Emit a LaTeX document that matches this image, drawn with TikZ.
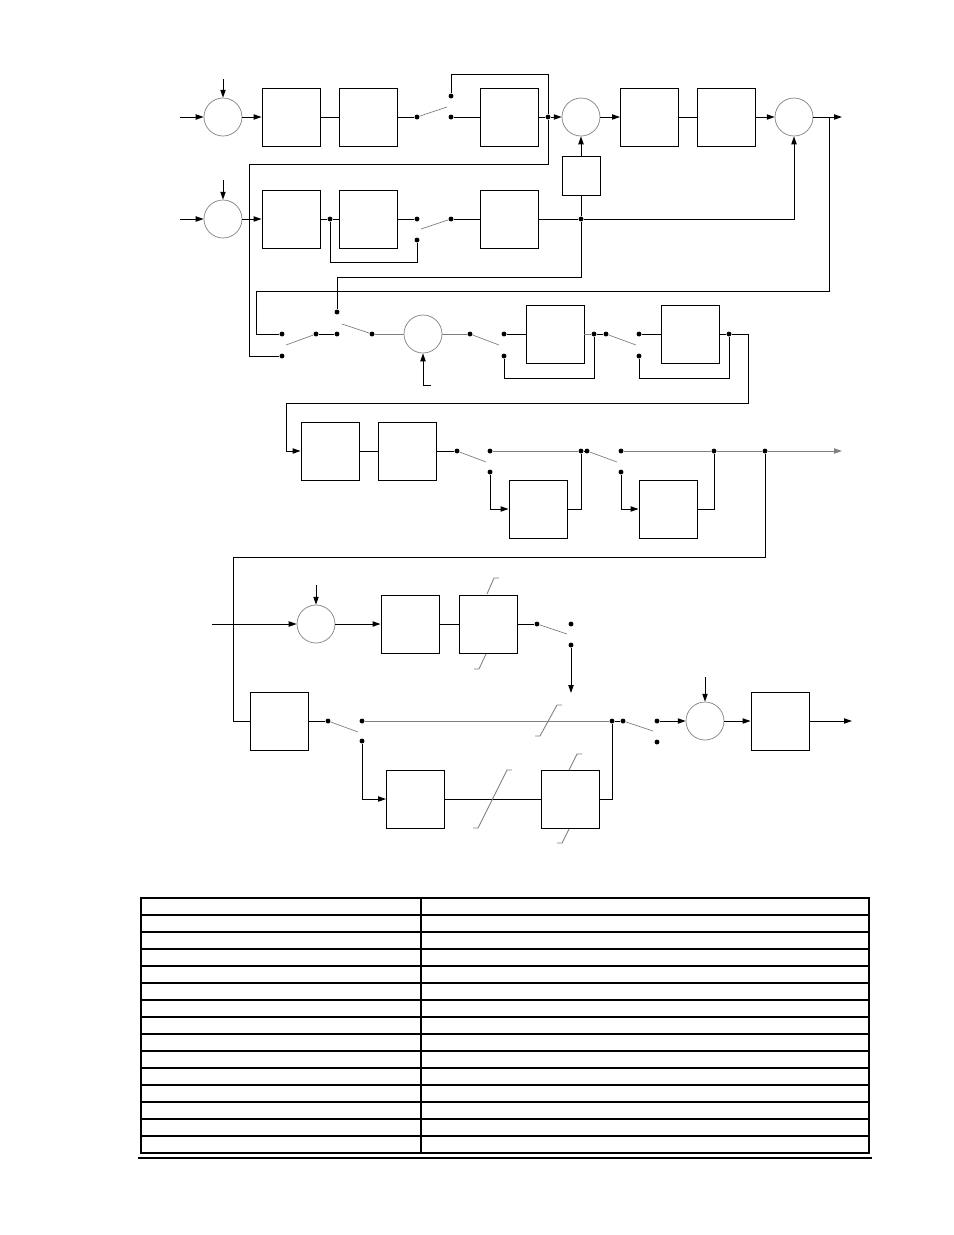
\documentclass[tikz,border=0pt]{standalone}
\usetikzlibrary{arrows.meta}
\begin{document}
\begin{tikzpicture}[x=.02cm,y=-.02cm,line width=.55pt,>={Triangle[length=4.5pt,width=3pt]},
        blk/.style={draw,minimum width=1.16cm,minimum height=1.16cm,inner sep=0},
        sum/.style={draw=gray,line width=.4pt,circle,minimum size=.76cm,inner sep=0},
        dot/.style={circle,fill,inner sep=0,minimum size=2.8pt},
        blade/.style={gray,line width=.4pt},
        gry/.style={gray,line width=.5pt}]
        \useasboundingbox(0,0)rectangle(954,1235);
        \node[sum](s1)at(223,117){};
        \coordinate(i1)at(180,117);
        \coordinate(t1)at(223,79);
        \node[blk](b1)at(291,117){};
        \node[blk](b2)at(368.5,117){};
        \node[dot](p1)at(417,117){};
        \node[dot](c1u)at(451,96){};
        \node[dot](c1d)at(451,117){};
        \node[blk](b3)at(509,117){};
        \node[dot](j1)at(548,117){};
        \node[sum](s2)at(581,117){};
        \node[blk](b4)at(649.5,117){};
        \node[blk](b5)at(726.5,117){};
        \node[sum](s3)at(794,117){};
        \coordinate(j2)at(829,117);
        \coordinate(o1)at(842,117);
        \node[blk,minimum width=.76cm,minimum height=.78cm](f1)at(581,175.5){};
        \node[sum](s4)at(223,219){};
        \coordinate(i2)at(180,219);
        \coordinate(t2)at(223,180);
        \node[blk](b6)at(291,219){};
        \node[blk](b7)at(368.5,219){};
        \node[dot](j3)at(330,219){};
        \node[dot](c2u)at(417,219){};
        \node[dot](c2d)at(417,240){};
        \node[dot](p2)at(451,219){};
        \node[blk](b8)at(509,219){};
        \node[dot](j4)at(581,219){};
        \node[dot](c3a)at(282,334){};
        \node[dot](c3b)at(282,356){};
        \node[dot](p3)at(316,334){};
        \node[dot](c4u)at(337,312){};
        \node[dot](c4d)at(337,334){};
        \node[dot](p4)at(372,334){};
        \node[sum](s5)at(423,334){};
        \coordinate(u5)at(431,385);
        \node[dot](p5)at(470,334){};
        \node[dot](c5u)at(504,334){};
        \node[dot](c5d)at(504,356){};
        \node[blk](b9)at(555,334){};
        \node[dot](j5)at(594,334){};
        \node[dot](p6)at(606,334){};
        \node[dot](c6u)at(639,334){};
        \node[dot](c6d)at(639,356){};
        \node[blk](b10)at(690,334){};
        \node[dot](j6)at(729,334){};
        \node[blk](d1)at(330,451){};
        \node[blk](d2)at(407.5,451){};
        \node[dot](p7)at(457,451){};
        \node[dot](c7u)at(490,451){};
        \node[dot](c7d)at(490,472){};
        \node[blk](e1)at(538,509){};
        \node[dot](j7)at(581,451){};
        \node[dot](p8)at(587,451){};
        \node[dot](c8u)at(621,451){};
        \node[dot](c8d)at(621,472){};
        \node[blk](e2)at(668,509){};
        \node[dot](j8)at(714,451){};
        \node[dot](j9)at(765,451){};
        \coordinate(o4)at(842,451);
        \node[sum](g1)at(316,624){};
        \coordinate(i5)at(212,624);
        \coordinate(t5)at(316,585);
        \node[blk](h1)at(410,624){};
        \node[blk](h2)at(488.5,624){};
        \node[dot](p9)at(537,624){};
        \node[dot](c9u)at(571,624){};
        \node[dot](c9d)at(571,645){};
        \coordinate(a9)at(571,693);
        \node[blk](f0)at(279,721){};
        \node[dot](p10)at(328,721){};
        \node[dot](c10u)at(362,721){};
        \node[dot](c10d)at(362,741){};
        \node[dot](j10)at(612,721){};
        \node[dot](p11)at(623,721){};
        \node[dot](c11u)at(657,721){};
        \node[dot](c11d)at(657,742){};
        \node[sum](k1)at(705,721){};
        \coordinate(t6)at(705,677);
        \node[blk](l1)at(780,721){};
        \coordinate(o6)at(852,721);
        \node[blk](m1)at(415.5,799){};
        \node[blk](m2)at(570.5,799){};
        \draw[->](i1)--(s1);
        \draw[->](t1)--(s1);
        \draw[->](s1)--(b1);
        \draw(b1)--(b2);
        \draw(b2)--(p1);
        \draw[blade](p1)--++(30,-10);
        \draw(c1d)--(b3);
        \draw(b3)--(j1);
        \draw[->](j1)--(s2);
        \draw[->](s2)--(b4);
        \draw(b4)--(b5);
        \draw[->](b5)--(s3);
        \draw[->](s3)--(o1);
        \draw[->](f1)--(s2);
        \draw(c1u)--++(0,-22)-|(j1);
        \draw(j1)--++(0,47)--++(-299,0)|-(c3b);
        \draw(j2)--++(0,174)--++(-573,0)|-(c3a);
        \draw[->](i2)--(s4);
        \draw[->](t2)--(s4);
        \draw[->](s4)--(b6);
        \draw(b6)--(j3)--(b7);
        \draw(b7)--(c2u);
        \draw[blade](p2)--++(-30,10);
        \draw(p2)--(b8);
        \draw(b8)--(j4);
        \draw[->](j4)-|(s3);
        \draw(j3)--++(0,43)-|(c2d);
        \draw(f1)--(j4)--++(0,58)-|(c4u);
        \draw[blade](p3)--++(-30,11);
        \draw(p3)--(c4d);
        \draw[blade](p4)--++(-30,-10);
        \draw[gry](p4)--(s5);
        \draw[->](u5)-|(s5);
        \draw[gry](s5)--(p5);
        \draw[blade](p5)--++(29,11);
        \draw(c5u)--(b9);
        \draw[gry](b9)--(j5);
        \draw(j5)--(p6);
        \draw[blade](p6)--++(30,11);
        \draw(c6u)--(b10);
        \draw(b10)--(j6);
        \draw(c5d)--++(0,22)-|(j5);
        \draw(c6d)--++(0,22)-|(j6);
        \draw[->](j6)--++(19,0)--++(0,69)--++(-462,0)|-(d1);
        \draw(d1)--(d2);
        \draw(d2)--(p7);
        \draw[blade](p7)--++(29,11);
        \draw[->](c7d)|-(e1);
        \draw(e1)-|(j7);
        \draw(j7)--(p8);
        \draw[blade](p8)--++(30,11);
        \draw[->](c8d)|-(e2);
        \draw(e2)-|(j8);
        \draw[gry](c7u)--(j7);
        \draw[gry](c8u)--(j8)--(j9);
        \draw[gry,->](j9)--(o4);
        \draw(j9)--++(0,106)--++(-532,0)|-(f0);
        \draw[->](i5)--(g1);
        \draw[->](t5)--(g1);
        \draw[->](g1)--(h1);
        \draw(h1)--(h2);
        \draw(h2)--(p9);
        \draw[blade](p9)--++(30,10);
        \draw[->](c9d)--(a9);
        \draw[gry](487,594)--++(7,-16)--++(5,0);
        \draw[gry](486,654)--++(-7,15)--++(-5,0);
        \draw(f0)--(p10);
        \draw[blade](p10)--++(30,11);
        \draw[gry](c10u)--(j10);
        \draw(j10)--(p11);
        \draw[blade](p11)--++(30,10);
        \draw[->](c11u)--(k1);
        \draw[->](t6)--(k1);
        \draw[->](k1)--(l1);
        \draw[->](l1)--(o6);
        \draw[->](c10d)|-(m1);
        \draw(m1)--(m2);
        \draw(m2)-|(j10);
        \draw[gry](535,736)--++(5,0)--++(17,-31)--++(5,0);
        \draw[gry](473,828)--++(5,0)--++(29,-58)--++(5,0);
        \draw[gry](569,770)--++(8,-16)--++(5,0);
        \draw[gry](569,829)--++(-7,14)--++(-5,0);
        \draw[line width=.8pt](141,898)rectangle(869,1153);
        \draw[line width=.8pt](421,898)--(421,1153);
        \foreach \r in {1,...,14}\draw[line width=.8pt](141,898+\r*17)--(869,898+\r*17);
        \draw[line width=.8pt](138,1158)--(872,1158);
    \end{tikzpicture}
\end{document}
